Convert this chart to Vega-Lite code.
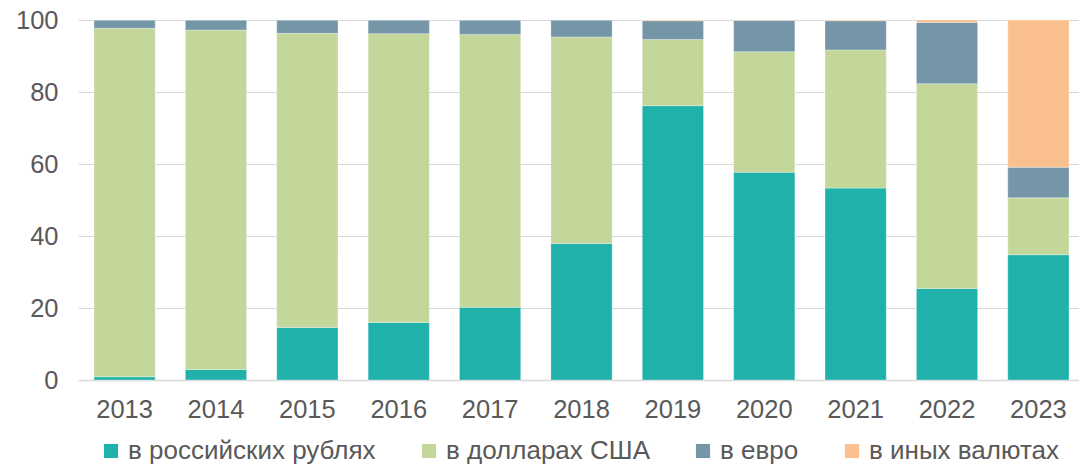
{
  "$schema": "https://vega.github.io/schema/vega-lite/v6.json",
  "width": 1007,
  "height": 360,
  "autosize": {"type": "none"},
  "padding": {"left": 78, "top": 20, "right": 0, "bottom": 86},
  "background": "white",
  "config": {
    "view": {"stroke": null},
    "font": "Liberation Sans",
    "axis": {"labelFont": "Liberation Sans", "labelColor": "#595959", "labelFontSize": 25.5}
  },
  "data": {
    "values": [
      {"year": "2013", "currency": "в российских рублях", "k": 1, "value": 0.9},
      {"year": "2013", "currency": "в долларах США", "k": 2, "value": 96.8},
      {"year": "2013", "currency": "в евро", "k": 3, "value": 2.3},
      {"year": "2013", "currency": "в иных валютах", "k": 4, "value": 0},
      {"year": "2014", "currency": "в российских рублях", "k": 1, "value": 2.9},
      {"year": "2014", "currency": "в долларах США", "k": 2, "value": 94.3},
      {"year": "2014", "currency": "в евро", "k": 3, "value": 2.8},
      {"year": "2014", "currency": "в иных валютах", "k": 4, "value": 0},
      {"year": "2015", "currency": "в российских рублях", "k": 1, "value": 14.6},
      {"year": "2015", "currency": "в долларах США", "k": 2, "value": 81.7},
      {"year": "2015", "currency": "в евро", "k": 3, "value": 3.7},
      {"year": "2015", "currency": "в иных валютах", "k": 4, "value": 0},
      {"year": "2016", "currency": "в российских рублях", "k": 1, "value": 16.0},
      {"year": "2016", "currency": "в долларах США", "k": 2, "value": 80.2},
      {"year": "2016", "currency": "в евро", "k": 3, "value": 3.8},
      {"year": "2016", "currency": "в иных валютах", "k": 4, "value": 0},
      {"year": "2017", "currency": "в российских рублях", "k": 1, "value": 20.2},
      {"year": "2017", "currency": "в долларах США", "k": 2, "value": 75.8},
      {"year": "2017", "currency": "в евро", "k": 3, "value": 4.0},
      {"year": "2017", "currency": "в иных валютах", "k": 4, "value": 0},
      {"year": "2018", "currency": "в российских рублях", "k": 1, "value": 37.9},
      {"year": "2018", "currency": "в долларах США", "k": 2, "value": 57.4},
      {"year": "2018", "currency": "в евро", "k": 3, "value": 4.7},
      {"year": "2018", "currency": "в иных валютах", "k": 4, "value": 0},
      {"year": "2019", "currency": "в российских рублях", "k": 1, "value": 76.2},
      {"year": "2019", "currency": "в долларах США", "k": 2, "value": 18.4},
      {"year": "2019", "currency": "в евро", "k": 3, "value": 5.2},
      {"year": "2019", "currency": "в иных валютах", "k": 4, "value": 0.2},
      {"year": "2020", "currency": "в российских рублях", "k": 1, "value": 57.7},
      {"year": "2020", "currency": "в долларах США", "k": 2, "value": 33.5},
      {"year": "2020", "currency": "в евро", "k": 3, "value": 8.7},
      {"year": "2020", "currency": "в иных валютах", "k": 4, "value": 0.1},
      {"year": "2021", "currency": "в российских рублях", "k": 1, "value": 53.3},
      {"year": "2021", "currency": "в долларах США", "k": 2, "value": 38.4},
      {"year": "2021", "currency": "в евро", "k": 3, "value": 8.1},
      {"year": "2021", "currency": "в иных валютах", "k": 4, "value": 0.2},
      {"year": "2022", "currency": "в российских рублях", "k": 1, "value": 25.4},
      {"year": "2022", "currency": "в долларах США", "k": 2, "value": 56.9},
      {"year": "2022", "currency": "в евро", "k": 3, "value": 17.0},
      {"year": "2022", "currency": "в иных валютах", "k": 4, "value": 0.7},
      {"year": "2023", "currency": "в российских рублях", "k": 1, "value": 34.8},
      {"year": "2023", "currency": "в долларах США", "k": 2, "value": 15.8},
      {"year": "2023", "currency": "в евро", "k": 3, "value": 8.5},
      {"year": "2023", "currency": "в иных валютах", "k": 4, "value": 40.9}
    ]
  },
  "mark": {"type": "bar", "stroke": "white", "strokeWidth": 0.5, "strokeOpacity": 0.6},
  "encoding": {
    "x": {
      "field": "year",
      "type": "nominal",
      "scale": {"paddingInner": 0.33, "paddingOuter": 0.175},
      "axis": {
        "title": null,
        "labelAngle": 0,
        "ticks": false,
        "domain": true,
        "domainColor": "#d9d9d9",
        "domainWidth": 1.5,
        "labelPadding": 17,
        "grid": false
      }
    },
    "y": {
      "field": "value",
      "type": "quantitative",
      "stack": "zero",
      "scale": {"domain": [0, 100], "nice": false},
      "axis": {
        "title": null,
        "values": [0, 20, 40, 60, 80, 100],
        "ticks": false,
        "domain": false,
        "grid": true,
        "gridColor": "#d9d9d9",
        "gridWidth": 1.2,
        "labelPadding": 20
      }
    },
    "order": {"field": "k", "type": "quantitative", "sort": "ascending"},
    "color": {
      "field": "currency",
      "type": "nominal",
      "scale": {
        "domain": ["в российских рублях", "в долларах США", "в евро", "в иных валютах"],
        "range": ["#20B2AA", "#C4D79B", "#7496A6", "#FAC090"]
      },
      "legend": {
        "title": null,
        "orient": "none",
        "direction": "horizontal",
        "legendX": 20,
        "legendY": 418,
        "symbolType": "square",
        "symbolSize": 200,
        "symbolStrokeWidth": 0,
        "symbolOpacity": 1,
        "labelFont": "Liberation Sans",
        "labelFontSize": 26,
        "labelColor": "#595959",
        "labelOffset": 4,
        "columnPadding": 40,
        "labelLimit": 400
      }
    }
  }
}
